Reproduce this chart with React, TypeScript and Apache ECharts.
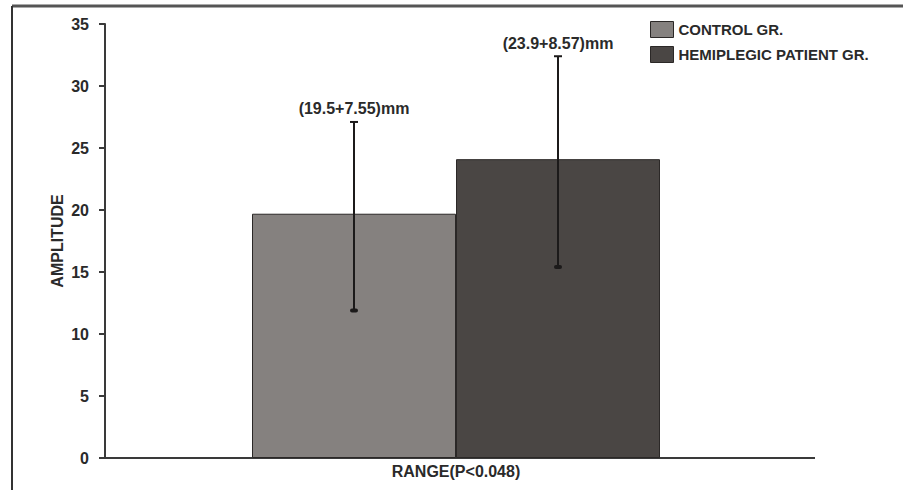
import React, { useEffect, useRef } from "react";
import * as echarts from "echarts";

const categories = ["RANGE(P<0.048)"];
const seriesNames = ["CONTROL GR.", "HEMIPLEGIC PATIENT GR."];
const meanValues = [19.7, 24.1];
const errorLow = [11.9, 15.4];
const errorHigh = [27.1, 32.4];
const errorLabels = ["(19.5+7.55)mm", "(23.9+8.57)mm"];
const yTicks = { min: 0, max: 35, interval: 5 };

const colors = ["#85817f", "#4a4644"];
const FONT = "'Liberation Sans', Arial, sans-serif";
const BAR_W = 204;

export default function App() {
  const ref = useRef<HTMLDivElement>(null);
  useEffect(() => {
    if (!ref.current) return;
    const chart = echarts.init(ref.current, undefined, { renderer: "svg" });
    const barSeries = seriesNames.map((name, i) => ({
      name,
      type: "bar",
      data: [meanValues[i]],
      barWidth: BAR_W,
      barGap: "0%",
      itemStyle: { color: colors[i], borderColor: "#2b2827", borderWidth: 1 },
      z: 2,
    }));
    const errSeries = seriesNames.map((name, i) => ({
      name: name + "-err",
      type: "custom",
      data: [[0, errorLow[i], errorHigh[i]]],
      z: 5,
      renderItem: (params: any, api: any) => {
        const top = api.coord([api.value(0), api.value(2)]);
        const bot = api.coord([api.value(0), api.value(1)]);
        const off = (i === 0 ? -1 : 1) * (BAR_W / 2);
        const x = top[0] + off;
        return {
          type: "group",
          children: [
            { type: "line", shape: { x1: x, y1: top[1], x2: x, y2: bot[1] }, style: { stroke: "#1c1a1a", lineWidth: 2 } },
            { type: "line", shape: { x1: x - 4, y1: top[1], x2: x + 4, y2: top[1] }, style: { stroke: "#1c1a1a", lineWidth: 2 } },
            { type: "rect", shape: { x: x - 4, y: bot[1] - 2, width: 8, height: 4, r: 2 }, style: { fill: "#1c1a1a" } },
            {
              type: "text",
              style: {
                text: errorLabels[i], x, y: top[1] - 13, align: "center", verticalAlign: "middle",
                font: "bold 16px " + FONT, fill: "#2a2a2a",
              },
            },
          ],
        };
      },
    }));
    chart.setOption({
      animation: false,
      backgroundColor: "#ffffff",
      grid: { left: 105, top: 24, right: 96, bottom: 32, containLabel: false },
      legend: {
        data: seriesNames,
        orient: "vertical",
        left: 650,
        top: 21,
        padding: 0,
        itemWidth: 23,
        itemHeight: 16,
        itemGap: 8,
        icon: "rect",
        itemStyle: { borderColor: "#2b2827", borderWidth: 1 },
        textStyle: { fontFamily: FONT, fontWeight: "bold", fontSize: 15, color: "#2a2a2a" },
      },
      xAxis: {
        type: "category",
        data: categories,
        axisLine: { lineStyle: { color: "#3a3a3a", width: 2 } },
        axisTick: { show: false },
        axisLabel: { fontFamily: FONT, fontWeight: "bold", fontSize: 16, color: "#2a2a2a", margin: 5 },
      },
      yAxis: {
        type: "value",
        min: yTicks.min,
        max: yTicks.max,
        interval: yTicks.interval,
        name: "AMPLITUDE",
        nameLocation: "middle",
        nameGap: 40,
        nameMoveOverlap: false,
        nameTextStyle: { fontFamily: FONT, fontWeight: "bold", fontSize: 16, color: "#2a2a2a" },
        axisLine: { show: true, lineStyle: { color: "#3a3a3a", width: 2 } },
        axisTick: { show: true, length: 6, lineStyle: { color: "#3a3a3a", width: 2 } },
        axisLabel: { fontFamily: FONT, fontWeight: "bold", fontSize: 16, color: "#2a2a2a", margin: 16 },
        splitLine: { show: false },
      },
      graphic: [
        { type: "line", shape: { x1: 12, y1: 6, x2: 903, y2: 6 }, style: { stroke: "#555", lineWidth: 3 } },
        { type: "line", shape: { x1: 12, y1: 6, x2: 12, y2: 490 }, style: { stroke: "#333", lineWidth: 2 } },
        { type: "line", shape: { x1: 806, y1: 458, x2: 815, y2: 458 }, style: { stroke: "#3a3a3a", lineWidth: 2 } },
      ],
      series: [...barSeries, ...errSeries],
    });
    return () => chart.dispose();
  }, []);
  return <div ref={ref} style={{ position: "fixed", left: 0, top: 0, width: 903, height: 490 }} />;
}
